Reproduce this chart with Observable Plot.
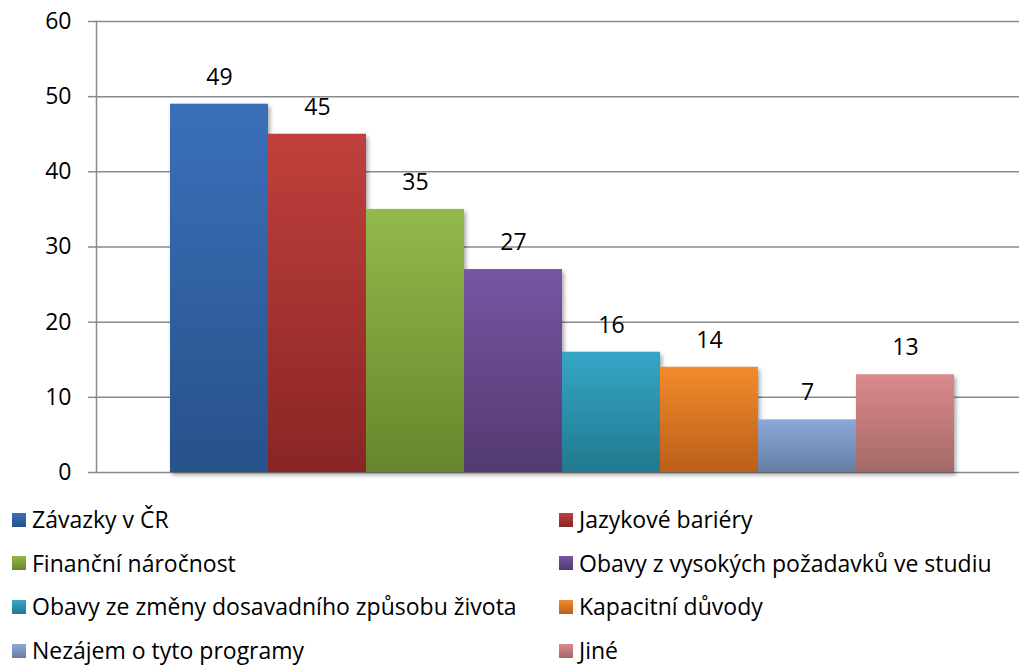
<!DOCTYPE html>
<html><head><meta charset="utf-8">
<script src="https://cdn.jsdelivr.net/npm/d3@7"></script>
<script src="https://cdn.jsdelivr.net/npm/@observablehq/plot@0.6"></script>
<style>
body{margin:0;background:#fff;font-family:"Open Sans",sans-serif;color:#000;}
#legend{display:grid;grid-template-columns:547px 460px;padding-left:12px;font-size:23px;margin-top:-2px;}
.item{height:43.6px;display:flex;align-items:center;white-space:nowrap;line-height:1.2;}
.sw{width:14px;height:14px;margin-right:6px;flex:none;}
svg g[aria-label="bar"]{filter:drop-shadow(2px 3px 2px rgba(0,0,0,0.35));}
</style></head><body><div id="chart"></div><div id="legend"></div>
<script>
const categories = ["Závazky v ČR","Jazykové bariéry","Finanční náročnost","Obavy z vysokých požadavků ve studiu","Obavy ze změny dosavadního způsobu života","Kapacitní důvody","Nezájem o tyto programy","Jiné"];
const values = [49,45,35,27,16,14,7,13];
const topColors = ["#3a70ba","#c0403c","#93b94a","#7655a3","#36a6c6","#f28b2c","#8ca8d8","#dc8a8a"];
const bottomColors = ["#27528a","#892525","#67862c","#533a70","#20798f","#bb5e18","#677ea6","#a46868"];
const yTicks = [0,10,20,30,40,50,60];

const data = categories.map((c,i)=>({cat:c, value:values[i], grad:`url(#g${i})`}));

const defsMark = () => {
  const defs = d3.create("svg:defs");
  categories.forEach((c,i)=>{
    const g = defs.append("linearGradient").attr("id","g"+i).attr("x1",0).attr("y1",0).attr("x2",0).attr("y2",1);
    g.append("stop").attr("offset","0%").attr("stop-color",topColors[i]);
    g.append("stop").attr("offset","100%").attr("stop-color",bottomColors[i]);
  });
  return defs.node();
};

const chart = Plot.plot({
  width: 1019,
  height: 500,
  marginLeft: 96,
  marginRight: 0,
  marginTop: 21,
  marginBottom: 28,
  style: {fontFamily: "Open Sans", fontSize: "23px", color: "#000", background: "#fff"},
  x: {domain: categories, range: [169, 954], padding: 0, axis: null},
  y: {domain: [0, 60]},
  marks: [
    defsMark,
    Plot.gridY(yTicks, {stroke: "#8a8a8a", strokeOpacity: 1, strokeWidth: 1.5}),
    Plot.barY(data, {x: "cat", y: "value", fill: "grad"}),
    Plot.frame({anchor: "left", stroke: "#8a8a8a", strokeWidth: 1.5}),
    Plot.axisY(yTicks, {tickSize: 8, tickPadding: 17, stroke: "#8a8a8a", strokeWidth: 1.5, fill: "#000", fontSize: 23, label: null}),
    Plot.text(data, {x: "cat", y: "value", text: d => String(d.value), dy: -27, fontSize: 23, fill: "#000"})
  ]
});
document.getElementById("chart").appendChild(chart);

const legend = document.getElementById("legend");
categories.forEach((c,i)=>{
  const item = document.createElement("div");
  item.className = "item";
  const sw = document.createElement("span");
  sw.className = "sw";
  sw.style.background = `linear-gradient(${topColors[i]}, ${bottomColors[i]})`;
  const t = document.createElement("span");
  t.textContent = c;
  item.appendChild(sw); item.appendChild(t);
  legend.appendChild(item);
});
</script></body></html>
